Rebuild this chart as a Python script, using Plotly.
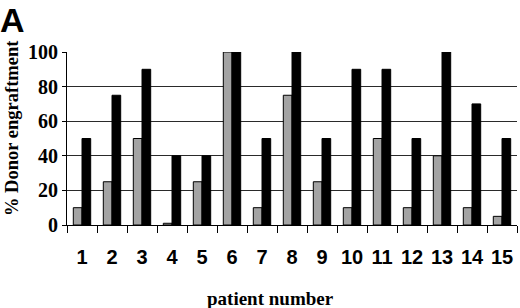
import plotly.graph_objects as go

patients = [str(i) for i in range(1, 16)]
gray_vals = [10, 25, 50, 1, 25, 100, 10, 75, 25, 10, 50, 10, 40, 10, 5]
black_vals = [50, 75, 90, 40, 40, 100, 50, 100, 50, 90, 90, 50, 100, 70, 50]
y_ticks = [0, 20, 40, 60, 80, 100]

serif = "Liberation Serif, Times New Roman, serif"
sans = "Liberation Sans, Arial, sans-serif"

fig = go.Figure()
fig.add_bar(x=patients, y=gray_vals, marker=dict(color="#a3a3a3", line=dict(color="black", width=1)))
fig.add_bar(x=patients, y=black_vals, marker=dict(color="black", line=dict(color="black", width=1)))

fig.update_layout(
    width=520, height=308,
    margin=dict(l=67, r=3, t=52, b=83),
    paper_bgcolor="white", plot_bgcolor="white",
    showlegend=False,
    barmode="group", bargap=0.42, bargroupgap=0,
    xaxis=dict(
        type="category", tickson="boundaries", ticks="outside", ticklen=7,
        tickcolor="black", showline=True, linecolor="black", linewidth=1,
        showgrid=False, ticklabelstandoff=14, tickangle=0,
        tickfont=dict(family=sans, size=20, color="black", weight="bold"),
    ),
    yaxis=dict(
        range=[0, 100], tickvals=y_ticks, showgrid=True, gridcolor="#2a2a2a", gridwidth=1,
        showline=True, linecolor="black", linewidth=1, ticks="outside", ticklen=4,
        tickcolor="black", zeroline=False,
        tickfont=dict(family=serif, size=20, color="black", weight="bold"),
    ),
    annotations=[
        dict(text="<b>A</b>", xref="paper", yref="paper", x=-67/450, y=1 + 52/173,
             xanchor="left", yanchor="top", showarrow=False, borderpad=0, xshift=-1,
             font=dict(family=sans, size=34, color="black")),
        dict(text="<b>% Donor engraftment</b>", xref="paper", yref="paper",
             x=-55/450, y=(225 - 128) / 173, textangle=-90, xanchor="center", yanchor="middle",
             showarrow=False, font=dict(family=serif, size=18.5, color="black")),
        dict(text="<b>patient number</b>", xref="paper", yref="paper",
             x=(270 - 67) / 450, y=-(298 - 225) / 173, xanchor="center", yanchor="middle",
             showarrow=False, font=dict(family=serif, size=19, color="black")),
    ],
)

fig.write_html("out.html", config={"displayModeBar": False},
               post_script="document.body.style.margin='0';document.body.style.padding='0';")
